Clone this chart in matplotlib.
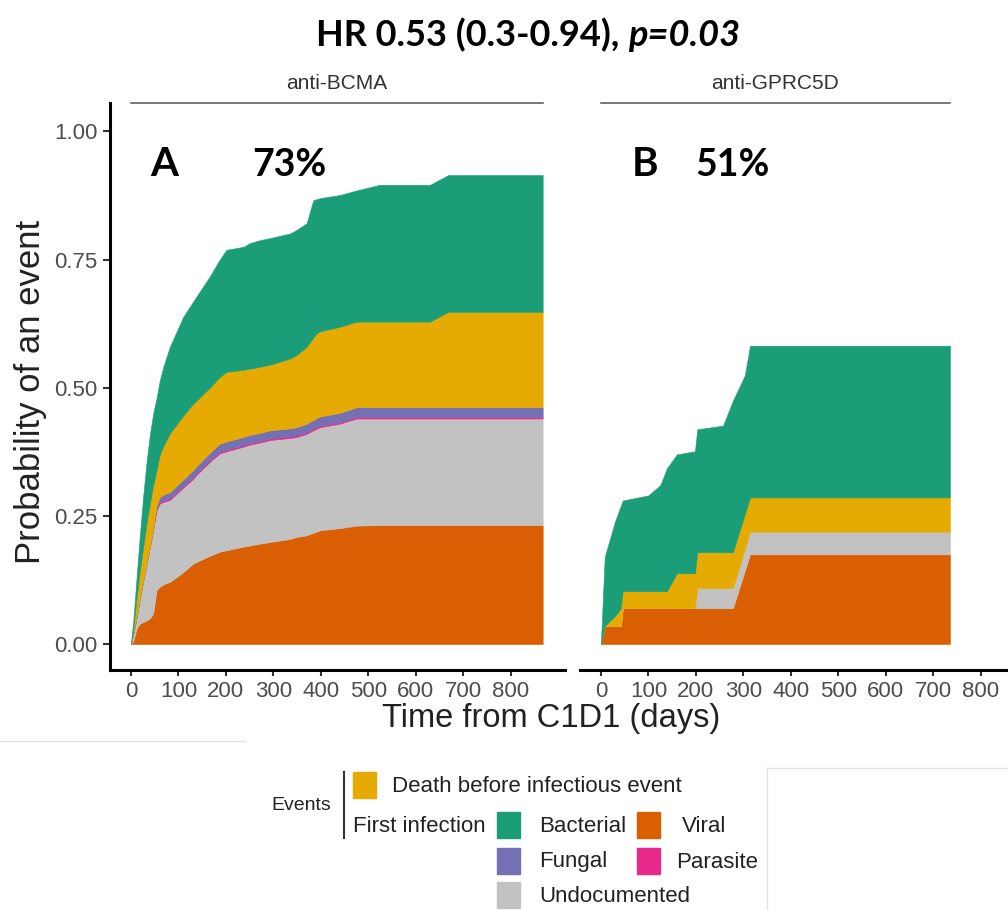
import matplotlib.pyplot as plt
from matplotlib.lines import Line2D
from matplotlib.patches import Rectangle

# anti-BCMA panel: days and stacked cumulative incidence per event type
bcma_days = [0, 5, 12, 19, 26, 33, 40, 47, 54, 61, 68, 75, 82, 110, 131, 138, 166, 187,
             201, 237, 250, 272, 293, 335, 349, 370, 384, 391, 398, 440, 475, 524, 630, 668, 867]
bcma_viral = [0, .005, .03, .04, .043, .046, .05, .06, .105, .112, .116, .119, .121, .14, .157, .16,
              .172, .18, .183, .19, .192, .196, .199, .205, .209, .212, .217, .219, .222, .226,
              .231, .232, .232, .232, .232]
bcma_undoc = [0, .015, .023, .05, .082, .111, .14, .165, .156, .162, .161, .16, .16, .165, .165, .17,
              .183, .192, .193, .195, .197, .197, .199, .197, .195, .198, .2, .201, .201, .204,
              .209, .208, .208, .208, .208]
bcma_parasite = [0, 0, 0, 0, 0, 0, 0, 0, .003, .003, .003, .003, .003, .003, .003, .003, .003, .003,
                 .003, .003, .003, .003, .003, .003, .003, .003, .003, .003, .003, .003, .003,
                 .003, .003, .003, .003]
bcma_fungal = [0, 0, 0, 0, 0, 0, 0, 0, .006, .01, .011, .012, .012, .013, .014, .014, .015, .016,
               .016, .016, .016, .016, .016, .016, .016, .017, .017, .018, .018, .018, .019,
               .019, .019, .019, .019]
bcma_death = [0, .01, .037, .054, .065, .078, .084, .085, .069, .083, .094, .104, .115, .124, .13,
              .128, .127, .13, .136, .131, .129, .129, .128, .136, .141, .15, .161, .165, .166,
              .168, .167, .167, .167, .186, .186]
bcma_bact = [0, .015, .04, .07, .1, .12, .135, .14, .141, .145, .155, .162, .169, .193, .199,
             .203, .217, .229, .238, .24, .245, .247, .247, .244, .244, .241, .268, .262, .26,
             .257, .256, .267, .267, .267, .267]

# anti-GPRC5D panel (no fungal or parasite events)
gprc_days = [0, 8, 30, 42, 46, 100, 125, 139, 160, 198, 203, 257, 278, 303, 314, 735]
gprc_viral = [0, .035, .035, .035, .07, .07, .07, .07, .07, .07, .07, .07, .07, .143, .175, .175]
gprc_undoc = [0, 0, 0, 0, 0, 0, 0, 0, 0, 0, .039, .039, .039, .042, .044, .044]
gprc_death = [0, 0, .02, .035, .033, .033, .033, .033, .068, .068, .07, .07, .07, .068, .067, .067]
gprc_bact = [0, .135, .185, .2, .177, .187, .207, .24, .232, .238, .24, .247, .296, .271, .296, .296]

panels = ['anti-BCMA', 'anti-GPRC5D']
letters = ['A', 'B']
percents = ['73%', '51%']
yticks = [0, 0.25, 0.5, 0.75, 1.0]
xticks = [0, 100, 200, 300, 400, 500, 600, 700, 800]

col = {'viral': '#D95F02', 'undoc': '#C2C2C2', 'parasite': '#E7298A',
       'fungal': '#7570B3', 'death': '#E6AB02', 'bact': '#1B9E77'}

plt.rcParams['font.family'] = ['Liberation Sans', 'DejaVu Sans']
W, H = 1008, 910
fig = plt.figure(figsize=(W / 100, H / 100), dpi=100)


def fx(px):
    return px / W


def fy(py):
    return 1 - py / H


ax1 = fig.add_axes([fx(110), fy(670), 455 / W, 567 / H])
ax2 = fig.add_axes([fx(580), fy(670), 455 / W, 567 / H])

layers1 = ax1.stackplot(bcma_days, bcma_viral, bcma_undoc, bcma_parasite, bcma_fungal,
                        bcma_death, bcma_bact,
                        colors=[col['viral'], col['undoc'], col['parasite'], col['fungal'],
                                col['death'], col['bact']])
layers2 = ax2.stackplot(gprc_days, gprc_viral, gprc_undoc, gprc_death, gprc_bact,
                        colors=[col['viral'], col['undoc'], col['death'], col['bact']])
for p in list(layers1) + list(layers2):
    p.set_edgecolor(p.get_facecolor())
    p.set_linewidth(0.4)

for i, ax in enumerate([ax1, ax2]):
    ax.set_xlim(-44, 914)
    ax.set_ylim(-0.0507, 1.0556)
    for s in ['top', 'right']:
        ax.spines[s].set_visible(False)
    ax.spines['bottom'].set_linewidth(2.2)
    ax.spines['left'].set_linewidth(2.2)
    ax.set_xticks(xticks)
    ax.tick_params(axis='x', length=4, width=1.5, color='#333333', labelsize=16,
                   labelcolor='#4D4D4D', pad=4)
    days = bcma_days if i == 0 else gprc_days
    ax.plot([0, max(days)], [1.0, 1.0], transform=ax.get_xaxis_transform(),
            color='#555555', lw=1.1, clip_on=False)
    ax.text(max(days) / 2, 1.035, panels[i], transform=ax.get_xaxis_transform(),
            ha='center', va='center', fontsize=15, color='#333333')

ax1.set_yticks(yticks)
ax1.set_yticklabels(['%.2f' % v for v in yticks])
ax1.tick_params(axis='y', length=5, width=1.5, color='#333333', labelsize=16,
                labelcolor='#4D4D4D', pad=4)
ax2.spines['left'].set_visible(False)
ax2.set_yticks([])

ax1.text(40, 0.935, letters[0], fontsize=29, fontweight='bold', family='Lato', va='center')
ax1.text(255, 0.935, percents[0], fontsize=27, fontweight='bold', family='Lato', va='center')
ax2.text(64, 0.935, letters[1], fontsize=29, fontweight='bold', family='Lato', va='center')
ax2.text(198, 0.935, percents[1], fontsize=27, fontweight='bold', family='Lato', va='center')

fig.text(fx(31), fy(392), 'Probability of an event', rotation=90, ha='center', va='center',
         fontsize=25, color='#222222')
fig.text(fx(551), fy(718), 'Time from C1D1 (days)', ha='center', va='center',
         fontsize=23.5, color='#222222')

t1 = fig.text(fx(316), fy(35), 'HR 0.53 (0.3-0.94), ', ha='left', va='center',
              fontsize=26, fontweight='bold', family='Lato')
fig.canvas.draw()
bb = t1.get_window_extent()
fig.text(bb.x1 / W, bb.y0 / H, 'p=0.03', ha='left', va='bottom', fontsize=26,
         fontweight='bold', style='italic', family='Lato')

# legend
fig.text(fx(271), fy(805), 'Events', fontsize=14, va='center', color='#222222')
fig.add_artist(Line2D([fx(344), fx(344)], [fy(772), fy(838)], color='#333333', lw=1.5))
legend_items = [
    (353, 772, col['death'], 392, 'Death before infectious event'),
    (497, 812, col['bact'], 539, 'Bacterial'),
    (637, 812, col['viral'], 682, 'Viral'),
    (497, 848, col['fungal'], 539, 'Fungal'),
    (637, 848, col['parasite'], 676, 'Parasite'),
    (497, 882, col['undoc'], 539, 'Undocumented'),
]
for sx, sy, c, tx, lab in legend_items:
    fig.add_artist(Rectangle((fx(sx), fy(sy + 26)), 23 / W, 26 / H, color=c,
                             transform=fig.transFigure))
    fig.text(fx(tx), fy(sy + 14), lab, fontsize=16, va='center', color='#222222')
fig.text(fx(353), fy(826), 'First infection', fontsize=16, va='center', color='#222222')

# faint frame lines from the source screenshot
for xs, ys in [([0, 245], [741, 741]), ([767, 767], [768, 910]), ([767, 1008], [768, 768])]:
    fig.add_artist(Line2D([fx(v) for v in xs], [fy(v) for v in ys], color='#E3E3E3', lw=1))

fig.savefig('out.png', dpi=100)
